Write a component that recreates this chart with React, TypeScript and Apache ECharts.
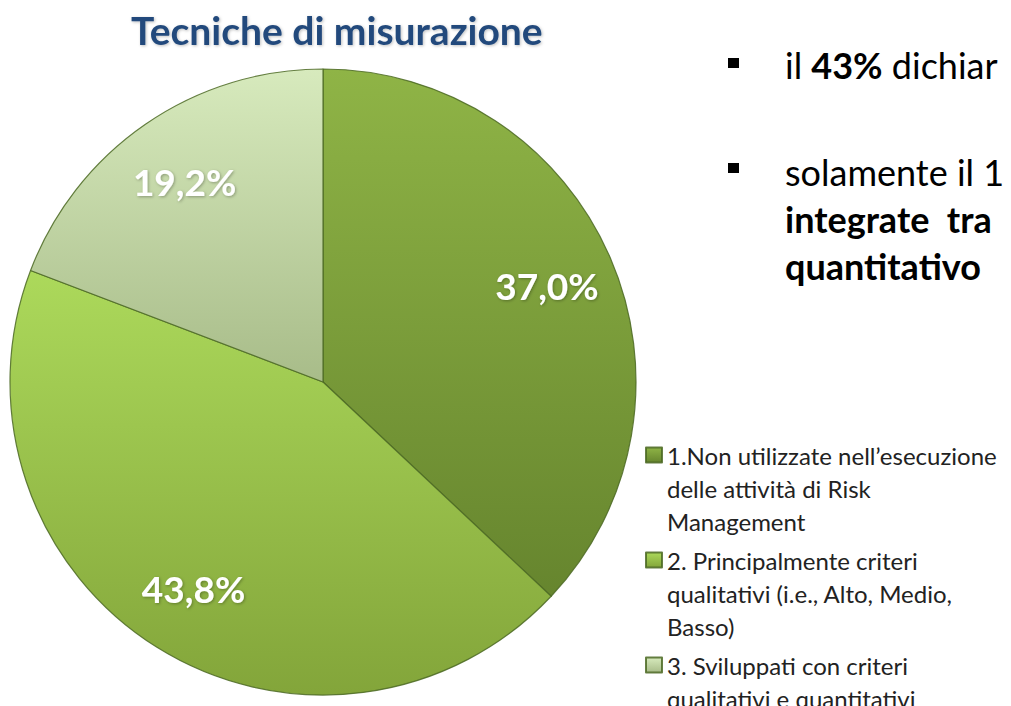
import React, { useEffect, useRef } from "react";
import * as echarts from "echarts";

const categories = [
  "1.Non utilizzate nell’esecuzione\ndelle attività di Risk\nManagement",
  "2. Principalmente criteri\nqualitativi (i.e., Alto, Medio,\nBasso)",
  "3. Sviluppati con criteri\nqualitativi e quantitativi",
];
const values = [37.0, 43.8, 19.2];
const gradientStops = [
  ["#8fb446", "#66852e"],
  ["#acd95b", "#83a53a"],
  ["#d7eabd", "#a8bc89"],
];

const FONT = "Lato, 'Noto Sans', sans-serif";
const LH = 33;
const SLOTS = 5;

export default function App() {
  const ref = useRef<HTMLDivElement>(null);
  useEffect(() => {
    if (!ref.current) return;
    const chart = echarts.init(ref.current, null, { renderer: "svg" });
    const grad = (i: number) =>
      new echarts.graphic.LinearGradient(0, 0, 0, 1, [
        { offset: 0, color: gradientStops[i][0] },
        { offset: 1, color: gradientStops[i][1] },
      ]);
    const fmt = (v: number) => v.toFixed(1).replace(".", ",") + "%";
    // pad each legend entry so that its first line sits level with the icon
    const legendText = (name: string) => {
      const lines = name.split("\n");
      const before = (SLOTS - 1) / 2;
      const after = SLOTS - before - lines.length;
      const pre = new Array(before).fill(" ");
      const post = new Array(Math.max(0, after)).fill(" ");
      return [...pre, ...lines, ...post].join("\n");
    };
    chart.setOption({
      animation: false,
      backgroundColor: "#ffffff",
      title: {
        text: "Tecniche di misurazione",
        left: 131,
        top: 6,
        padding: 0,
        textStyle: {
          fontFamily: FONT,
          fontSize: 39,
          fontWeight: "bold",
          color: "#234a7c",
          lineHeight: 48,
          textShadowColor: "rgba(0,0,0,0.25)",
          textShadowBlur: 3,
          textShadowOffsetX: 1,
          textShadowOffsetY: 1,
        },
      },
      legend: {
        orient: "vertical",
        left: 645,
        top: 455 - (SLOTS * LH) / 2,
        height: 420,
        padding: 0,
        itemWidth: 16,
        itemHeight: 15,
        itemGap: -60,
        icon: "rect",
        selectedMode: false,
        formatter: legendText,
        textStyle: {
          fontFamily: FONT,
          fontSize: 24,
          lineHeight: LH,
          color: "#222",
        },
        data: categories,
      },
      series: [
        {
          type: "pie",
          center: [323, 382],
          radius: [0, 313],
          startAngle: 90,
          clockwise: true,
          silent: true,
          label: { show: false },
          labelLine: { show: false },
          itemStyle: {
            borderColor: "rgba(75,105,35,0.85)",
            borderWidth: 1.2,
          },
          data: categories.map((name, i) => ({
            name,
            value: values[i],
            itemStyle: { color: grad(i) },
          })),
        },
        {
          type: "pie",
          center: [323, 382],
          radius: [169, 313],
          startAngle: 90,
          clockwise: true,
          silent: true,
          itemStyle: { color: "rgba(0,0,0,0)", borderWidth: 0 },
          labelLine: { show: false },
          label: {
            show: true,
            position: "inside",
            formatter: (p: any) => fmt(p.value),
            fontFamily: FONT,
            fontSize: 37,
            fontWeight: "bold",
            color: "#ffffff",
            textShadowColor: "rgba(0,0,0,0.3)",
            textShadowBlur: 3,
            textShadowOffsetX: 1,
            textShadowOffsetY: 1,
          },
          data: categories.map((name, i) => ({ name, value: values[i] })),
        },
      ],
      graphic: [
        { type: "rect", shape: { x: 728, y: 58, width: 11, height: 10 }, style: { fill: "#000" } },
        {
          type: "text",
          x: 785,
          y: 65,
          style: {
            text: "{n|il }{b|43%}{n| dichiar}",
            verticalAlign: "middle",
            rich: {
              n: { fontFamily: FONT, fontSize: 36, fill: "#000" },
              b: { fontFamily: FONT, fontSize: 36, fontWeight: "bold", fill: "#000" },
            },
          },
        },
        { type: "rect", shape: { x: 728, y: 163, width: 11, height: 10 }, style: { fill: "#000" } },
        {
          type: "text",
          x: 785,
          y: 172,
          style: {
            text: "solamente il 1",
            verticalAlign: "middle",
            fontFamily: FONT,
            fontSize: 36,
            fill: "#000",
          },
        },
        {
          type: "text",
          x: 785,
          y: 219,
          style: {
            text: "integrate  tra",
            verticalAlign: "middle",
            fontFamily: FONT,
            fontSize: 36,
            fontWeight: "bold",
            fill: "#000",
          },
        },
        {
          type: "text",
          x: 785,
          y: 266,
          style: {
            text: "quantitativo",
            verticalAlign: "middle",
            fontFamily: FONT,
            fontSize: 36,
            fontWeight: "bold",
            fill: "#000",
          },
        },
      ],
    });
    return () => chart.dispose();
  }, []);
  return (
    <div
      ref={ref}
      style={{ position: "absolute", left: 0, top: 0, width: 1011, height: 706, background: "#fff" }}
    />
  );
}
